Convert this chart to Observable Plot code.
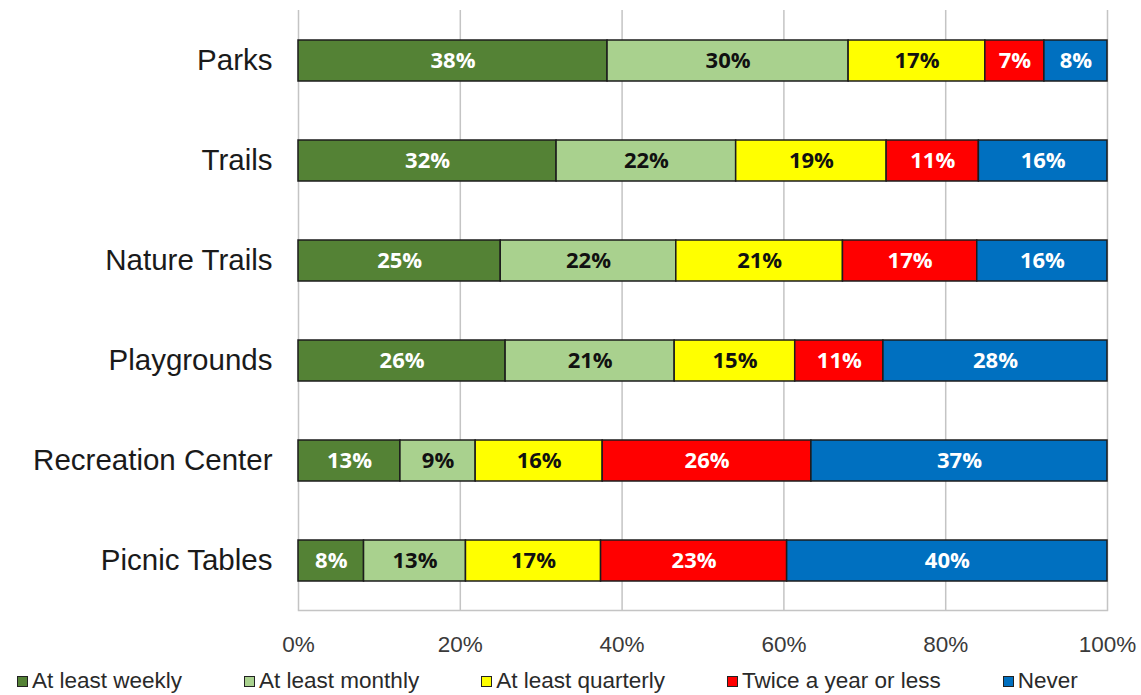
<!DOCTYPE html>
<html><head><meta charset="utf-8">
<script src="https://cdn.jsdelivr.net/npm/d3@7"></script>
<script src="https://cdn.jsdelivr.net/npm/@observablehq/plot@0.6"></script>
<style>
body{margin:0;background:#fff;font-family:"Liberation Sans",Arial,sans-serif;}
#chart svg{display:block}
#legend{display:flex;gap:62px;padding-left:17px;height:32px;align-items:center;font-size:22.5px;color:#2a2a2a;}
.item{display:flex;align-items:center;white-space:nowrap}
.sw{width:9px;height:9px;border:1.5px solid #222;margin-right:4px}
</style></head><body><div id="chart"></div><div id="legend"></div>
<script>
const facilities = ["Parks","Trails","Nature Trails","Playgrounds","Recreation Center","Picnic Tables"];
const seriesNames = ["At least weekly","At least monthly","At least quarterly","Twice a year or less","Never"];
const seriesColors = ["#548235","#a9d18e","#ffff00","#ff0000","#0070c0"];
const whiteLabelSeries = ["At least weekly","Twice a year or less","Never"];
const xTicks = [0,20,40,60,80,100];

const atLeastWeekly    = [38.2, 31.9, 25.0, 25.6, 12.6,  8.1];
const atLeastMonthly   = [29.8, 22.2, 21.7, 20.9,  9.3, 12.6];
const atLeastQuarterly = [16.9, 18.6, 20.6, 14.9, 15.7, 16.7];
const twiceAYearOrLess = [ 7.3, 11.4, 16.6, 10.9, 25.8, 23.0];
const never            = [ 7.8, 15.9, 16.1, 27.7, 36.6, 39.6];

const seriesValues = [atLeastWeekly, atLeastMonthly, atLeastQuarterly, twiceAYearOrLess, never];
const data = [];
facilities.forEach((f, i) => {
  seriesNames.forEach((s, j) => data.push({facility: f, series: s, value: seriesValues[j][i]}));
});

const label = d => Math.round(d.value) + "%";
const textBase = {x: "value", y: "facility", fontWeight: "bold", fontSize: 22, fontFamily: "'Open Sans', sans-serif"};

const chart = Plot.plot({
  width: 1141,
  height: 665,
  marginLeft: 298,
  marginRight: 34,
  marginTop: 10,
  marginBottom: 55,
  style: {fontFamily: "'Liberation Sans', Arial, sans-serif", background: "#fff"},
  x: {domain: [0, 100]},
  y: {domain: facilities, paddingInner: 0.59, paddingOuter: 0.295},
  color: {domain: seriesNames, range: seriesColors},
  marks: [
    Plot.gridX(xTicks, {stroke: "#c4c4c4", strokeOpacity: 1, strokeWidth: 1.5}),
    Plot.frame({anchor: "bottom", stroke: "#c4c4c4", strokeWidth: 1.5}),
    Plot.barX(data, {x: "value", y: "facility", fill: "series", stroke: "#1c1c1c", strokeWidth: 1.5}),
    Plot.text(data, Plot.stackX({...textBase, text: d => whiteLabelSeries.includes(d.series) ? label(d) : null, fill: "#ffffff"})),
    Plot.text(data, Plot.stackX({...textBase, text: d => whiteLabelSeries.includes(d.series) ? null : label(d), fill: "#111111"})),
    Plot.axisY({tickSize: 0, tickPadding: 26, fontSize: 29.5, color: "#1a1a1a", label: null}),
    Plot.axisX({ticks: xTicks, tickFormat: d => d + "%", tickSize: 0, tickPadding: 26, fontSize: 22.5, color: "#3a3a3a", label: null})
  ]
});
document.getElementById("chart").appendChild(chart);

const legend = document.getElementById("legend");
seriesNames.forEach((s, j) => {
  const item = document.createElement("div");
  item.className = "item";
  const sw = document.createElement("span");
  sw.className = "sw";
  sw.style.background = seriesColors[j];
  const t = document.createElement("span");
  t.textContent = s;
  item.appendChild(sw); item.appendChild(t);
  legend.appendChild(item);
});
</script></body></html>
